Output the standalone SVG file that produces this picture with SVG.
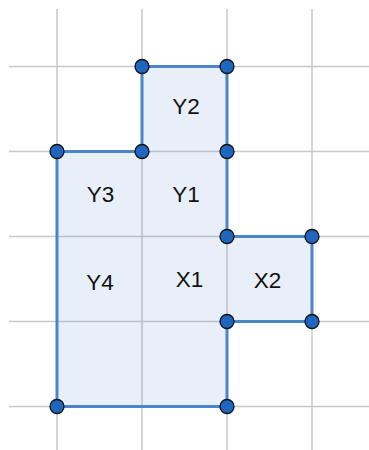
<svg xmlns="http://www.w3.org/2000/svg" width="369" height="450" viewBox="0 0 369 450">
<style>
.grid{stroke:#c8c8c8;stroke-width:1.5;fill:none}
.ingrid{stroke:#b9bec7;stroke-width:1.5;fill:none}
.shape{fill:#e8eff9;stroke:none}
.edge{stroke:#4a86c8;stroke-width:3;fill:none;stroke-linejoin:miter}
.pt{fill:#1f66c0;stroke:#111;stroke-width:1.3}
.lbl{font-family:"Liberation Sans",Arial,sans-serif;font-size:22.5px;fill:#111;text-anchor:middle}
</style>
<rect width="369" height="450" fill="#fff"/>
<g id="grid">
<path class="grid" d="M57 9V450M142 9V450M227 9V450M312 9V450M9 66.5H369M9 151.5H369M9 236.5H369M9 321.5H369M9 406.5H369"/>
</g>
<g id="region">
<path class="shape" d="M142 66.5H227V236.5H312V321.5H227V406.5H57V151.5H142Z"/>
<path class="ingrid" d="M142 151.5V406.5M227 236.5V321.5M57 236.5H312M57 321.5H227M142 151.5H227"/>
</g>
<g id="connectors">
<path class="edge" d="M142 151.5V66.5H227V236.5H312V321.5H227V406.5H57V151.5H142"/>
</g>
<g id="cell-Y2"><text class="lbl" x="186" y="114">Y2</text></g>
<g id="cell-Y3"><text class="lbl" x="100.5" y="202">Y3</text></g>
<g id="cell-Y1"><text class="lbl" x="186" y="201.5">Y1</text></g>
<g id="cell-Y4"><text class="lbl" x="100" y="290">Y4</text></g>
<g id="cell-X1"><text class="lbl" x="189.5" y="286.5">X1</text></g>
<g id="cell-X2"><text class="lbl" x="267.5" y="287.5">X2</text></g>
<g id="vertices">
<circle class="pt" cx="142" cy="66.5" r="7"/>
<circle class="pt" cx="227" cy="66.5" r="7"/>
<circle class="pt" cx="57" cy="151.5" r="7"/>
<circle class="pt" cx="142" cy="151.5" r="7"/>
<circle class="pt" cx="227" cy="151.5" r="7"/>
<circle class="pt" cx="227" cy="236.5" r="7"/>
<circle class="pt" cx="312" cy="236.5" r="7"/>
<circle class="pt" cx="227" cy="321.5" r="7"/>
<circle class="pt" cx="312" cy="321.5" r="7"/>
<circle class="pt" cx="57" cy="406.5" r="7"/>
<circle class="pt" cx="227" cy="406.5" r="7"/>
</g>
</svg>
